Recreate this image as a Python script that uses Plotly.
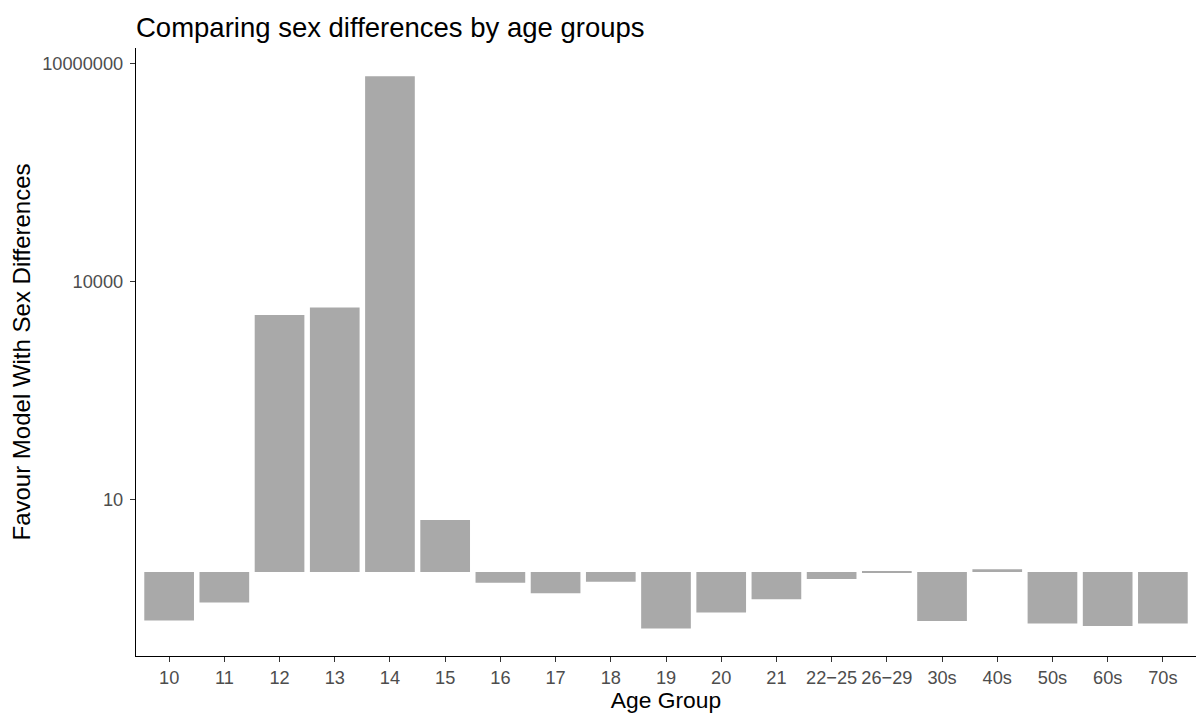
import plotly.graph_objects as go

categories = ["10", "11", "12", "13", "14", "15", "16", "17", "18", "19", "20", "21",
              "22\u221225", "26\u221229", "30s", "40s", "50s", "60s", "70s"]
values = [0.214, 0.38, 3430, 4370, 6.6e6, 5.2, 0.71, 0.51, 0.73, 0.166, 0.276, 0.42,
          0.80, 0.98, 0.212, 1.09, 0.195, 0.18, 0.195]
y_tickvals = [10, 10000, 10000000]
y_ticktext = ["10", "10000", "10000000"]

base_val = 1
font_family = "Liberation Sans, Arial, sans-serif"

fig = go.Figure()
fig.add_trace(go.Bar(
    x=categories,
    y=[v - base_val for v in values],
    base=[base_val] * len(values),
    marker=dict(color="#A9A9A9", line=dict(width=0)),
    hovertext=[str(v) for v in values],
))

fig.update_layout(
    width=1196, height=713,
    margin=dict(l=136, r=0, t=48, b=57),
    paper_bgcolor="white", plot_bgcolor="white",
    bargap=0.1,
    showlegend=False,
    font=dict(family=font_family),
    title=dict(text="Comparing sex differences by age groups",
               x=136 / 1196, xanchor="left", xref="container",
               y=1 - 27 / 713, yanchor="middle", yref="container",
               font=dict(size=27.5, color="black", family=font_family)),
)
fig.update_xaxes(
    range=[-0.6, len(categories) - 0.4],
    showline=True, linecolor="black", linewidth=1.4,
    ticks="outside", ticklen=5, tickcolor="#333333", tickwidth=1.1,
    tickfont=dict(size=18.2, color="#4D4D4D"),
    showgrid=False, zeroline=False,
    title=dict(text="Age Group", font=dict(size=22.8, color="black"), standoff=1),
)
fig.update_yaxes(
    type="log",
    range=[-1.157, 7.21],
    tickvals=y_tickvals, ticktext=y_ticktext,
    showline=True, linecolor="black", linewidth=1.4,
    ticks="outside", ticklen=5, tickcolor="#333333", tickwidth=1.1,
    tickfont=dict(size=18.2, color="#4D4D4D"),
    ticklabelstandoff=3,
    showgrid=False, zeroline=False,
    title=dict(text="Favour Model With Sex Differences", font=dict(size=24, color="black"), standoff=4),
)

fig.write_html("out.html")
